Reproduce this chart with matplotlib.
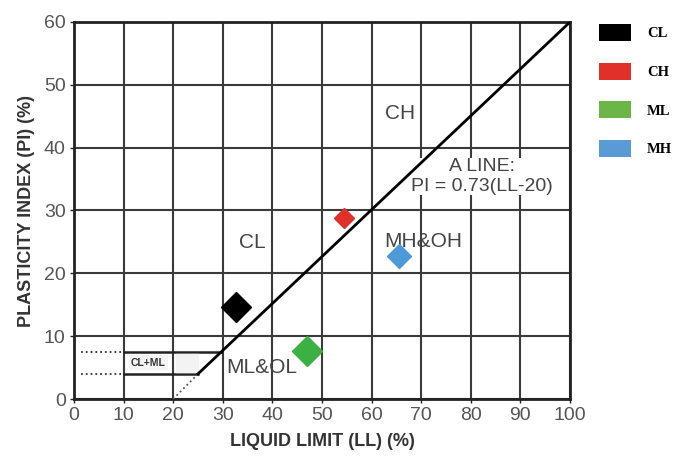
import matplotlib.pyplot as plt
from matplotlib.patches import Patch

plt.rcParams['font.family'] = ['Liberation Sans', 'DejaVu Sans']

# soil samples on the plasticity chart
groups = ['CL', 'CH', 'ML', 'MH']
ll = [32.7, 54.4, 46.9, 65.5]
pi = [14.7, 28.8, 7.7, 22.7]
colors = ['#000000', '#e0302a', '#3bb143', '#4d9ad8']
legend_colors = ['#000000', '#e0302a', '#6cb547', '#5b9bd5']
sizes = [15, 10, 15, 12]

# A-line and boundary lines
a_line_x = [25, 100]
a_line_y = [4, 60]
u_dot_x = [20, 25]
u_dot_y = [0, 4]

zones = [('CH', 65.7, 45.4), ('CL', 35.9, 24.9), ('MH&OH', 70.5, 25.0),
         ('ML&OL', 37.9, 5.0)]

fig = plt.figure(figsize=(6.81, 4.69), dpi=100)
ax = fig.add_axes([74 / 681, 1 - 399 / 469, (570 - 74) / 681, (399 - 22) / 469])

ax.set_xlim(0, 100)
ax.set_ylim(0, 60)
ax.set_xticks(range(0, 101, 10))
ax.set_yticks(range(0, 61, 10))
ax.grid(True, color='#3a3a3a', linewidth=1.5)
ax.set_axisbelow(True)
for s in ax.spines.values():
    s.set_linewidth(2)
    s.set_color('#222222')
ax.tick_params(labelsize=14, labelcolor='#555555', color='#222222', length=3, width=1, pad=3)

# CL-ML band
ax.plot([1.5, 10], [7.5, 7.5], ':', color='#333333', lw=1.3)
ax.plot([1.5, 10], [4, 4], ':', color='#333333', lw=1.3)
ax.plot([10, 29.6], [7.5, 7.5], color='#222222', lw=1.8)
ax.plot([10, 25], [4, 4], color='#222222', lw=1.8)
ax.fill_between([20.5, 25], 4.3, 7.2, color='#f3f3f3', zorder=2)
ax.text(15, 5.8, 'CL+ML', fontsize=7.5, fontweight='bold', ha='center', va='center',
        color='#333333', bbox=dict(fc='#f4f4f4', ec='none', pad=1.5))

ax.plot(a_line_x, a_line_y, color='black', lw=2, zorder=5)
ax.plot(u_dot_x, u_dot_y, ':', color='#555555', lw=1.3, zorder=3)

for name, x, y in zones:
    ax.text(x, y, name, fontsize=15, color='#444444', ha='center', va='center')
ax.text(82.2, 35.4, 'A LINE:\nPI = 0.73(LL-20)', fontsize=14, color='#444444',
        ha='center', va='center', linespacing=1.25, zorder=3,
        bbox=dict(fc='white', ec='none', pad=0.2))

for x, y, c, s in zip(ll, pi, colors, sizes):
    ax.plot(x, y, marker='D', markersize=s, color=c, markeredgecolor=c, zorder=6)

ax.set_xlabel('LIQUID LIMIT (LL) (%)', fontsize=13, fontweight='bold', color='#333333',
              labelpad=6)
ax.set_ylabel('PLASTICITY INDEX (PI) (%)', fontsize=13, fontweight='bold', color='#333333',
              labelpad=6)

handles = [Patch(facecolor=c, edgecolor='none') for c in legend_colors]
fig.legend(handles, groups, loc='upper left', bbox_to_anchor=(599 / 681, 1 - 24 / 469),
           frameon=False, prop=dict(family='Liberation Serif', weight='bold', size=10.5),
           handlelength=2.2, handleheight=1.4, labelspacing=1.5, handletextpad=1.1,
           borderaxespad=0, borderpad=0)

fig.savefig('out.png', dpi=100)
